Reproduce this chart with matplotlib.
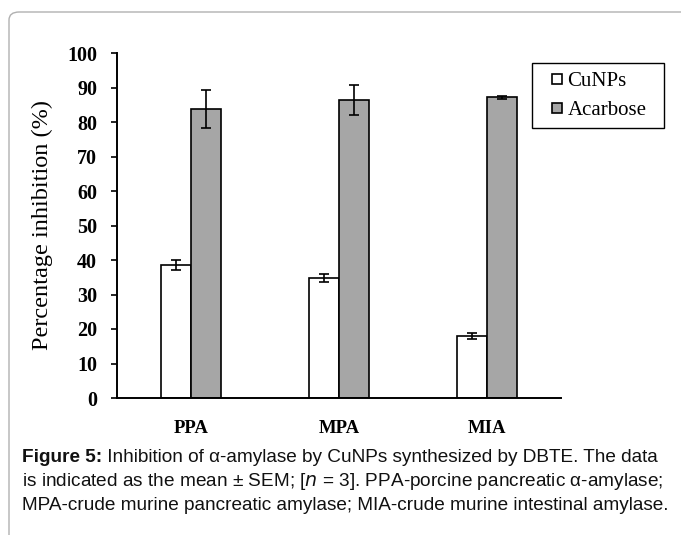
import numpy as np
import matplotlib
matplotlib.use("Agg")
import matplotlib.pyplot as plt
from matplotlib.patches import FancyBboxPatch
from matplotlib.lines import Line2D
from matplotlib import font_manager

# data
categories = ['PPA', 'MPA', 'MIA']
cunps = [38.6, 34.7, 17.9]
cunps_err = [1.5, 1.2, 0.8]
acarbose = [83.8, 86.3, 87.2]
acarbose_err = [5.4, 4.3, 0.4]
series_names = ['CuNPs', 'Acarbose']

names = set(f.name for f in font_manager.fontManager.ttflist)
cap_font = 'Liberation Sans Narrow' if 'Liberation Sans Narrow' in names else 'Liberation Sans'
cap_size = 13 if cap_font == 'Liberation Sans Narrow' else 13.65
serif = 'Liberation Serif'

W, H = 681, 535
fig = plt.figure(figsize=(W / 100, H / 100), dpi=100)

# outer rounded frame (only top/left visible)
frame = FancyBboxPatch((9 / W, -0.2), 1.2, (H - 12) / H + 0.2,
                       boxstyle="round,pad=0,rounding_size=0.015",
                       transform=fig.transFigure, fill=False,
                       edgecolor='#b0b0b0', linewidth=1.0)
fig.patches.append(frame)

ax = fig.add_axes([117 / W, (H - 398) / H, (561 - 117) / W, (398 - 53) / H])

x = np.arange(len(categories))
w = 0.2
ax.bar(x - w / 2, cunps, w, yerr=cunps_err, color='white', edgecolor='black',
       linewidth=1.2, capsize=3.5, error_kw=dict(elinewidth=1.2, capthick=1.2))
ax.bar(x + w / 2, acarbose, w, yerr=acarbose_err, color='#a6a6a6', edgecolor='black',
       linewidth=1.2, capsize=3.5, error_kw=dict(elinewidth=1.2, capthick=1.2))

ax.set_xlim(-0.5, 2.5)
ax.set_ylim(0, 100)
ax.set_yticks(np.arange(0, 101, 10))
ax.set_xticks(x)
ax.set_xticklabels(categories, fontfamily=serif, fontweight='bold', fontsize=13.5)
for lab in ax.get_yticklabels():
    lab.set_fontfamily(serif)
    lab.set_fontweight('bold')
    lab.set_fontsize(14.5)
ax.tick_params(axis='x', length=0, pad=16)
ax.tick_params(axis='y', direction='out', length=4.3, width=1.2, pad=10)
for s in ['top', 'right']:
    ax.spines[s].set_visible(False)
ax.spines['left'].set_linewidth(1.4)
ax.spines['bottom'].set_linewidth(1.4)

ax.set_ylabel('Percentage inhibition (%)', fontfamily=serif, fontsize=17.5, labelpad=10)

handles = [Line2D([], [], marker='s', linestyle='none', markersize=6.5,
                  markerfacecolor='white', markeredgecolor='black', markeredgewidth=1.2),
           Line2D([], [], marker='s', linestyle='none', markersize=6.5,
                  markerfacecolor='#a6a6a6', markeredgecolor='black', markeredgewidth=1.2)]
leg = fig.legend(handles, series_names, loc='upper left', mode='expand',
                 bbox_to_anchor=(532 / W, 1 - 129 / H, (664 - 532) / W, 66 / H),
                 bbox_transform=fig.transFigure,
                 prop=dict(family=serif, size=15), handlelength=1.6,
                 handletextpad=-0.3, borderpad=0.4, labelspacing=0.45,
                 fancybox=False, framealpha=1, edgecolor='black', borderaxespad=0)
leg.get_frame().set_linewidth(1.0)

# caption
cap_lines = [
    ('Figure 5:', ' Inhibition of \u03b1-amylase by CuNPs synthesized by DBTE. The data'),
    (None, 'is indicated as the mean \u00b1 SEM; [$\\it{n}$ = 3]. PPA-porcine pancreatic \u03b1-amylase;'),
    (None, 'MPA-crude murine pancreatic amylase; MIA-crude murine intestinal amylase.'),
]
ys = [457, 482, 506]
for (bold, rest), yy in zip(cap_lines, ys):
    if bold:
        t = fig.text(22 / W, 1 - yy / H, bold, fontfamily=cap_font, fontweight='bold',
                     fontsize=cap_size, va='center', ha='left', color='#111111')
        fig.canvas.draw()
        bb = t.get_window_extent()
        fig.text(bb.x1 / W, 1 - yy / H, rest, fontfamily=cap_font, fontsize=cap_size,
                 va='center', ha='left', color='#111111')
    else:
        fig.text(22 / W, 1 - yy / H, rest, fontfamily=cap_font, fontsize=cap_size,
                 va='center', ha='left', color='#111111')

fig.savefig('out.png', dpi=100)
